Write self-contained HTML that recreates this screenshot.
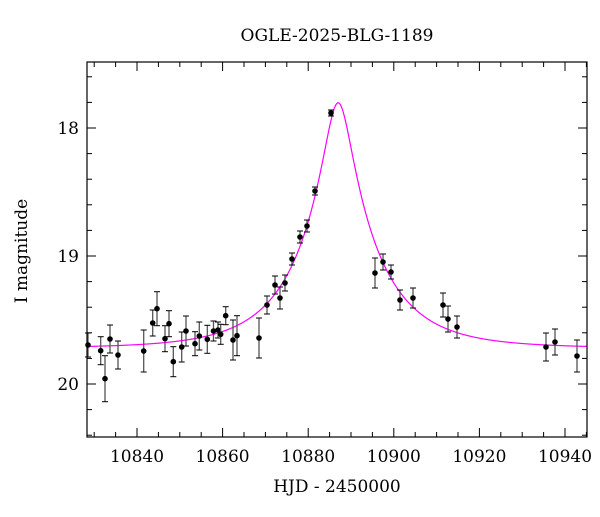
<!DOCTYPE html>
<html><head><meta charset="utf-8"><style>
body{margin:0;background:#fff;}
svg text{font-family:"DejaVu Serif","Liberation Serif",serif;fill:#000;}
</style></head><body>
<svg id="s" width="600" height="512" viewBox="0 0 600 512" xmlns="http://www.w3.org/2000/svg">
<rect x="0" y="0" width="600" height="512" fill="#fff"/>
<text x="337" y="41" font-size="17" text-anchor="middle">OGLE-2025-BLG-1189</text>
<text x="337" y="492" font-size="17" text-anchor="middle">HJD - 2450000</text>
<text transform="translate(27,251) rotate(-90)" font-size="17" text-anchor="middle">I magnitude</text>
<g id="ticks" stroke="#000" stroke-width="1"></g>
<g id="lbl" font-size="17"></g>
<path id="curve" fill="none" stroke="#ff00ff" stroke-width="1.2"/>
<g id="pts"></g>
<rect x="87" y="62" width="500" height="375" fill="none" stroke="#000" stroke-width="1.2"/>
</svg>
<script>
var NS="http://www.w3.org/2000/svg";
function X(t){return 137+(t-10840)*4.28;}
function Y(m){return 128+(m-18)*128;}
function el(tag,a,p){var e=document.createElementNS(NS,tag);for(var k in a)e.setAttribute(k,a[k]);document.getElementById(p).appendChild(e);return e;}
for(var t=10830;t<=10945;t+=5){var x=X(t);if(x<87||x>587)continue;var L=(t%20==0)?9:5;
el('line',{x1:x,y1:437,x2:x,y2:437-L},'ticks');el('line',{x1:x,y1:62,x2:x,y2:62+L},'ticks');
if(t%20==0){var tx=el('text',{x:x,y:462,'text-anchor':'middle'},'lbl');tx.textContent=t;}}
for(var i=0;i<=15;i++){var m=17.6+i*0.2;var y=Y(m);if(y<62||y>437)continue;var maj=Math.abs(m-Math.round(m))<0.01;var L=maj?9:5;
el('line',{x1:87,y1:y,x2:87+L,y2:y},'ticks');el('line',{x1:587,y1:y,x2:587-L,y2:y},'ticks');
if(maj){var tx=el('text',{x:79,y:y+6,'text-anchor':'end'},'lbl');tx.textContent=Math.round(m);}}
var d="",u0=0.173,tE=17.8,t0=10887.0,m0=19.72;
for(var t=10828.3;t<=10945.1;t+=0.1){var u=Math.sqrt(u0*u0+Math.pow((t-t0)/tE,2));var A=(u*u+2)/(u*Math.sqrt(u*u+4));var m=m0-2.5*Math.log10(A);
d+=(d?"L":"M")+X(t).toFixed(2)+","+Y(m).toFixed(2);}
document.getElementById('curve').setAttribute('d',d);
var P=[[88,345,12],[100.7,350.7,14],[105,378.7,23],[110,339,14],[118,355,14],[143.7,351,21],[152.7,323,13],[157,308.7,17],[165,338.7,13],[169,323.7,13],[173.3,361.7,15],[181.7,347,15],[186,331,15],[195,343.7,12],[199.3,336,14],[207.3,339.3,14],[213.5,331,10],[218,330,8],[220.7,334.3,10],[225.7,315.7,9],[233,340,20],[237,335.7,20],[259,338,20],[267,305,9],[275,285,9],[280,298,11],[285,283,8],[292,259,6],[300,237,6],[307,226,6],[315,191,4],[331,113,3],[375,273,15],[383,262,8],[391,272,7],[400,300,10],[413,298,10],[443,305,12],[448,319,13],[457,327,11],[546,347,14],[555,342,13],[577,356,16]];
P.forEach(function(p){el('line',{x1:p[0],y1:p[1]-p[2],x2:p[0],y2:p[1]+p[2],stroke:'#555','stroke-width':1.3},'pts');
[-1,1].forEach(function(s){el('line',{x1:p[0]-3,y1:p[1]+s*p[2],x2:p[0]+3,y2:p[1]+s*p[2],stroke:'#000','stroke-width':1},'pts');});
el('circle',{cx:p[0],cy:p[1],r:2.8,fill:'#000'},'pts');});
</script>
</body></html>
